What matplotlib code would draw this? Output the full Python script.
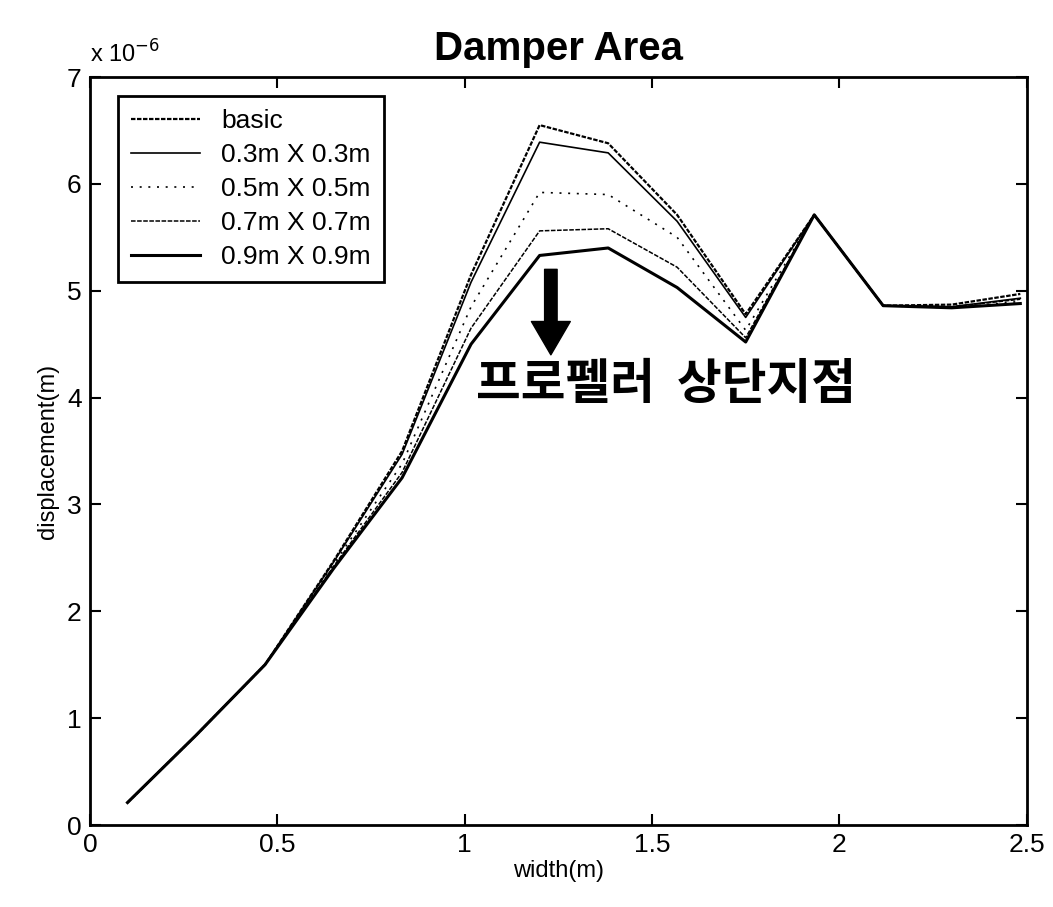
import matplotlib
matplotlib.use('Agg')
import numpy as np
import matplotlib.pyplot as plt

#==========================================================
# Data : displacement along the width for each damper size
#==========================================================
width = [0.1, 0.283, 0.467, 0.65, 0.833, 1.017, 1.2, 1.383, 1.567, 1.75, 1.933, 2.117, 2.3, 2.483]

disp_basic = [0.21, 0.84, 1.50, 2.47, 3.50, 5.15, 6.55, 6.38, 5.71, 4.78, 5.71, 4.86, 4.87, 4.97]
disp_03 = [0.21, 0.84, 1.50, 2.46, 3.47, 5.08, 6.39, 6.29, 5.65, 4.75, 5.71, 4.86, 4.85, 4.93]
disp_05 = [0.21, 0.84, 1.50, 2.44, 3.38, 4.85, 5.92, 5.90, 5.50, 4.63, 5.71, 4.86, 4.84, 4.90]
disp_07 = [0.21, 0.84, 1.50, 2.42, 3.30, 4.65, 5.56, 5.58, 5.22, 4.56, 5.71, 4.86, 4.85, 4.92]
disp_09 = [0.21, 0.84, 1.50, 2.40, 3.25, 4.50, 5.33, 5.40, 5.03, 4.52, 5.71, 4.86, 4.84, 4.88]

labels = ['basic', '0.3m X 0.3m', '0.5m X 0.5m', '0.7m X 0.7m', '0.9m X 0.9m']
xticks = [0, 0.5, 1, 1.5, 2, 2.5]
xticklabels = ['0', '0.5', '1', '1.5', '2', '2.5']
yticks = [0, 1, 2, 3, 4, 5, 6, 7]

#==========================================================
# plot
#==========================================================
plt.rcParams['font.family'] = ['Liberation Sans', 'DejaVu Sans']

fig = plt.figure(figsize=[10.53, 9.07], dpi=100)
ax = fig.add_axes([0.0855, 0.0904, 0.8895, 0.8247])

styles = [dict(ls=(0, (2, 0.7)), lw=1.6),
          dict(ls='-', lw=1.2),
          dict(ls=(0, (1.2, 4)), lw=1.2),
          dict(ls=(0, (3, 1)), lw=1.1),
          dict(ls='-', lw=2.2)]
series = [disp_basic, disp_03, disp_05, disp_07, disp_09]
for s, lab, st in zip(series, labels, styles):
    ax.plot(width, s, color='black', label=lab, **st)

ax.set_xlim(0, 2.5)
ax.set_ylim(0, 7)
ax.set_xticks(xticks)
ax.set_xticklabels(xticklabels)
ax.set_yticks(yticks)
ax.tick_params(labelsize=19, direction='in', length=8, width=1.5, color='black',
               top=True, right=True, pad=6)
for sp in ax.spines.values():
    sp.set_linewidth(2)

ax.set_xlabel('width(m)', fontsize=17, labelpad=2)
ax.set_ylabel('displacement(m)', fontsize=17, labelpad=6)
ax.set_title('Damper Area', fontsize=29, fontweight='bold', pad=12)
ax.text(0.0, 1.012, r'x 10$^{-6}$', transform=ax.transAxes, fontsize=17, ha='left', va='bottom')

leg = ax.legend(loc='upper left', bbox_to_anchor=(0.030, 0.975), borderaxespad=0, fontsize=19,
                fancybox=False, framealpha=1, edgecolor='black', borderpad=0.5,
                handlelength=2.6, labelspacing=0.38)
leg.get_frame().set_linewidth(2)

# marker arrow and annotation
ax.annotate('', xy=(1.23, 4.40), xytext=(1.23, 5.20),
            arrowprops=dict(facecolor='black', edgecolor='black', width=9, headwidth=28, headlength=24))
ax.text(1.03, 4.12, '프로펠러  상단지점', fontsize=35, fontweight='bold', va='center', ha='left',
        family=['Noto Sans CJK KR', 'DejaVu Sans'])

plt.savefig('out.png', dpi=100)
